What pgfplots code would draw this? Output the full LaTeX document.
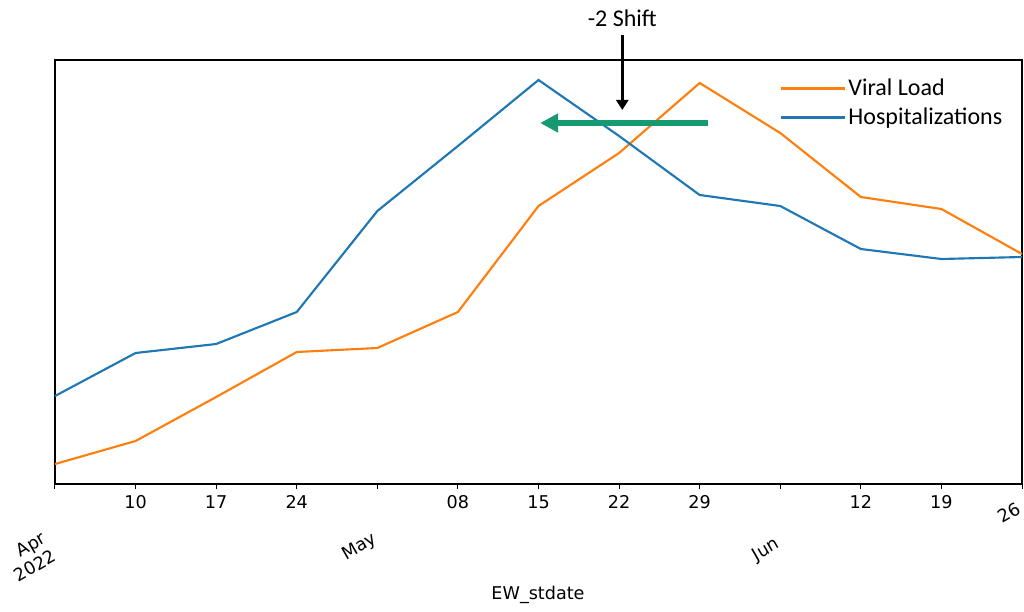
\documentclass[border=0pt]{standalone}
\usepackage{pgfplots}
\pgfplotsset{compat=1.18}
\usepackage{fontspec}
\setmainfont{DejaVu Sans}
\newfontfamily\calib{Carlito}
\usetikzlibrary{arrows.meta}
\definecolor{mplorange}{HTML}{FF7F0E}
\definecolor{mplblue}{HTML}{1F77B4}
\definecolor{shiftgreen}{HTML}{179A72}
\begin{document}
\begin{tikzpicture}
\begin{axis}[
  scale only axis,
  width=725.25pt, height=318pt,
  xmin=0, xmax=12, ymin=0, ymax=424,
  clip=false,
  axis line style={line width=0.8pt},
  xtick={0,1,2,3,4,5,6,7,8,9,10,11,12},
  xticklabels={,10,17,24,,08,15,22,29,,12,19,},
  xtick pos=bottom, tick align=outside,
  major tick length=3.75pt,
  every tick/.style={black, line width=0.75pt},
  ytick=\empty,
  xticklabel style={font=\fontsize{13.2}{15}\selectfont, yshift=-1.5pt},
  xlabel={EW\_stdate},
  xlabel style={font=\fontsize{13.2}{15}\selectfont, at={(axis description cs:0.4995,-0.262)}, anchor=center},
  legend style={draw=none, fill=none, at={(axis description cs:0.745,0.968)}, anchor=north west,
    font=\calib\fontsize{18}{22}\selectfont, row sep=3.8pt},
  legend cell align=left,
  legend image code/.code={\draw[#1] (0pt,0pt) -- (40pt,0pt); \path (0pt,0pt) -- (48pt,0pt);},
]
\addplot[mplorange, line width=1.6pt] coordinates {
(0,20) (1,43) (2,87) (3,132) (4,136) (5,172) (6,278) (7,331) (8,401) (9,351) (10,287) (11,275) (12,230)};
\addlegendentry{Viral Load}
\addplot[mplblue, line width=1.6pt] coordinates {
(0,88) (1,131) (2,140) (3,172) (4,273) (5,338) (6,404) (7,348) (8,289) (9,278) (10,235) (11,225) (12,227)};
\addlegendentry{Hospitalizations}
\draw[shiftgreen, line width=5pt, -{Triangle[length=13.5pt,width=13.5pt]}] (axis cs:8.10,361) -- (axis cs:6.02,361);
\draw[black, line width=1.9pt, -{Triangle[length=7.5pt,width=9pt]}] (axis cs:7.04,449) -- (axis cs:7.04,374);
\node[font=\calib\fontsize{18}{22}\selectfont, anchor=center] at (axis cs:7.04,466) {-2 Shift};
\node[rotate=30, anchor=north east, align=right, inner sep=1pt, font=\fontsize{13.2}{15.5}\selectfont] at (axis cs:-0.17,-45) {Apr\\2022};
\node[rotate=30, anchor=north east, inner sep=1pt, font=\fontsize{13.2}{15}\selectfont] at (axis cs:3.93,-45) {May};
\node[rotate=30, anchor=north east, inner sep=1pt, font=\fontsize{13.2}{15}\selectfont] at (axis cs:8.93,-50) {Jun};
\node[rotate=30, anchor=north east, inner sep=1pt, font=\fontsize{13.2}{15}\selectfont] at (axis cs:11.93,-15) {26};
\end{axis}
\pgfresetboundingbox
\path (-41.25pt,-95.25pt) rectangle (726.75pt,363pt);
\end{tikzpicture}
\end{document}
